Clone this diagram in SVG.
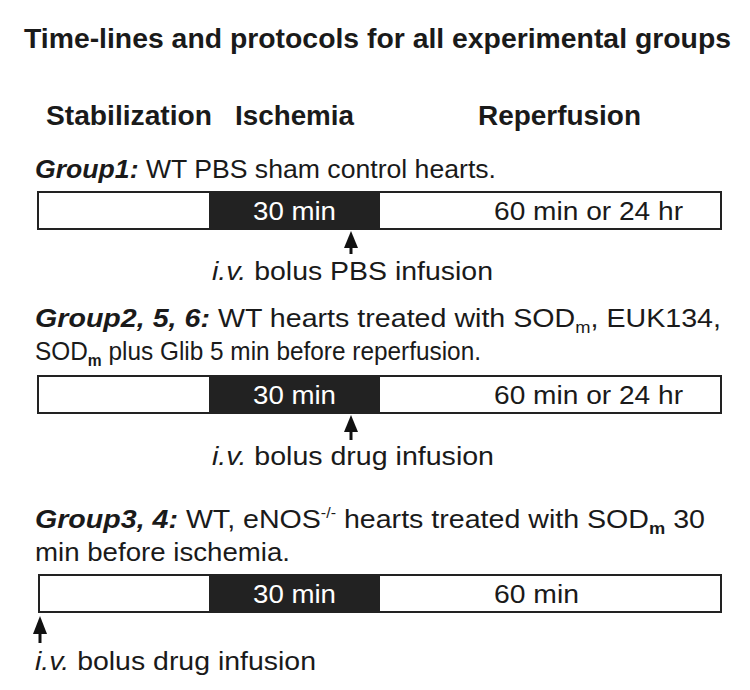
<svg xmlns="http://www.w3.org/2000/svg" width="750" height="690" viewBox="0 0 750 690">
<style>
text{font-family:"Liberation Sans",Arial,sans-serif;fill:#1a1a1a}
.h{font-size:27px;font-weight:bold}
.b{font-size:25px}
.bi{font-weight:bold;font-style:italic}
.i{font-style:italic}
.w{fill:#fff}
.bar{fill:#fff;stroke:#222;stroke-width:2}
.blk{fill:#222}
.shaft{stroke:#111;stroke-width:3}
.head{fill:#111}
</style>
<rect width="750" height="690" fill="#fff"/>
<g id="title">
<text class="h" x="24" y="48" textLength="707" lengthAdjust="spacingAndGlyphs">Time-lines and protocols for all experimental groups</text>
</g>
<g id="phase-headers">
<text class="h" x="46" y="125" textLength="166" lengthAdjust="spacingAndGlyphs">Stabilization</text>
<text class="h" x="235" y="125" textLength="119" lengthAdjust="spacingAndGlyphs">Ischemia</text>
<text class="h" x="478" y="125" textLength="163" lengthAdjust="spacingAndGlyphs">Reperfusion</text>
</g>
<g id="group1">
<text class="b" x="35" y="178" textLength="461" lengthAdjust="spacingAndGlyphs"><tspan class="bi">Group1:</tspan> WT PBS sham control hearts.</text>
<rect class="bar" x="38" y="192" width="683" height="37"/>
<rect class="blk" x="209" y="192" width="171" height="37"/>
<text class="b w" x="253" y="220" textLength="83" lengthAdjust="spacingAndGlyphs">30 min</text>
<text class="b" x="494" y="220" textLength="189" lengthAdjust="spacingAndGlyphs">60 min or 24 hr</text>
<text class="b" x="212" y="280" textLength="281" lengthAdjust="spacingAndGlyphs"><tspan class="i">i.v.</tspan> bolus PBS infusion</text>
</g>
<g id="group2">
<text class="b" x="35" y="327" textLength="686" lengthAdjust="spacingAndGlyphs"><tspan class="bi">Group2, 5, 6:</tspan> WT hearts treated with SOD<tspan font-size="16" dy="6">m</tspan><tspan dy="-6">, EUK134,</tspan></text>
<text class="b" x="35" y="360" textLength="446" lengthAdjust="spacingAndGlyphs">SOD<tspan font-size="16" font-weight="bold" dy="6">m</tspan><tspan dy="-6"> plus Glib 5 min before reperfusion.</tspan></text>
<rect class="bar" x="38" y="376" width="683" height="37"/>
<rect class="blk" x="209" y="376" width="171" height="37"/>
<text class="b w" x="253" y="404" textLength="83" lengthAdjust="spacingAndGlyphs">30 min</text>
<text class="b" x="494" y="404" textLength="189" lengthAdjust="spacingAndGlyphs">60 min or 24 hr</text>
<text class="b" x="212" y="465" textLength="282" lengthAdjust="spacingAndGlyphs"><tspan class="i">i.v.</tspan> bolus drug infusion</text>
</g>
<g id="group3">
<text class="b" x="35" y="528" textLength="670" lengthAdjust="spacingAndGlyphs"><tspan class="bi">Group3, 4:</tspan> WT, eNOS<tspan font-size="14" dy="-10">-/-</tspan><tspan dy="10"> hearts treated with SOD</tspan><tspan font-size="16" font-weight="bold" dy="6">m</tspan><tspan dy="-6"> 30</tspan></text>
<text class="b" x="35" y="561" textLength="255" lengthAdjust="spacingAndGlyphs">min before ischemia.</text>
<rect class="bar" x="39" y="575" width="682" height="37"/>
<rect class="blk" x="209" y="575" width="171" height="37"/>
<text class="b w" x="253" y="603" textLength="83" lengthAdjust="spacingAndGlyphs">30 min</text>
<text class="b" x="494" y="603" textLength="85" lengthAdjust="spacingAndGlyphs">60 min</text>
<text class="b" x="35" y="670" textLength="281" lengthAdjust="spacingAndGlyphs"><tspan class="i">i.v.</tspan> bolus drug infusion</text>
</g>
<g id="connectors">
<line class="shaft" x1="351" y1="245" x2="351" y2="254"/>
<polygon class="head" points="351,231 344,248 358,248"/>
<line class="shaft" x1="351" y1="430" x2="351" y2="440"/>
<polygon class="head" points="351,415 344,432 358,432"/>
<line class="shaft" x1="40" y1="630" x2="40" y2="643"/>
<polygon class="head" points="40,616 33,634 47,634"/>
</g>
</svg>
